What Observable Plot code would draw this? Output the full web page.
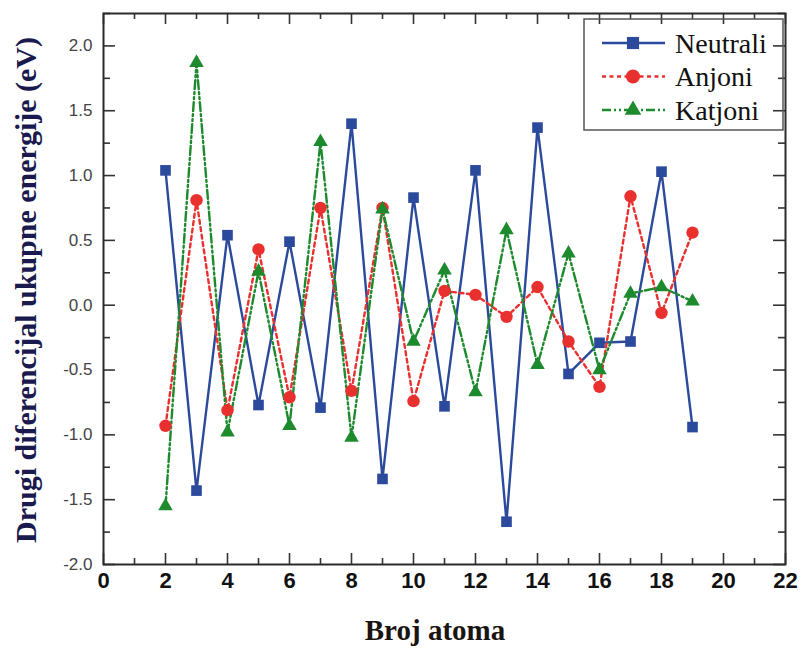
<!DOCTYPE html>
<html><head><meta charset="utf-8">
<script src="https://cdn.jsdelivr.net/npm/d3@7"></script>
<script src="https://cdn.jsdelivr.net/npm/@observablehq/plot@0.6"></script>
<style>
body{margin:0;background:#fff;}
#wrap{position:relative;width:803px;height:649px;overflow:hidden;background:#fff;}
#wrap svg{position:absolute;left:0;top:0;}
</style></head><body><div id="wrap"></div>
<script>
// ---- data ----
const atoms    = [2, 3, 4, 5, 6, 7, 8, 9, 10, 11, 12, 13, 14, 15, 16, 17, 18, 19];
const neutrali = [1.04, -1.43, 0.54, -0.77, 0.49, -0.79, 1.40, -1.34, 0.83, -0.78, 1.04, -1.67, 1.37, -0.53, -0.29, -0.28, 1.03, -0.94];
const anjoni   = [-0.93, 0.81, -0.81, 0.43, -0.71, 0.75, -0.66, 0.75, -0.74, 0.11, 0.08, -0.09, 0.14, -0.28, -0.63, 0.84, -0.06, 0.56];
const katjoni  = [-1.55, 1.87, -0.98, 0.26, -0.93, 1.26, -1.02, 0.74, -0.28, 0.27, -0.67, 0.58, -0.46, 0.40, -0.50, 0.09, 0.14, 0.03];
const seriesNames = ["Neutrali", "Anjoni", "Katjoni"];
const xMajor = [0, 2, 4, 6, 8, 10, 12, 14, 16, 18, 20, 22];
const xMinor = [1, 3, 5, 7, 9, 11, 13, 15, 17, 19, 21];
const yMajor = [-2.0, -1.5, -1.0, -0.5, 0.0, 0.5, 1.0, 1.5, 2.0];
const yMinor = [-1.75, -1.25, -0.75, -0.25, 0.25, 0.75, 1.25, 1.75, 2.25];
const xTitle = "Broj atoma";
const yTitle = "Drugi diferencijal ukupne energije (eV)";

// ---- styles ----
const styles = {
  Neutrali: {color: "#2c4a9c", dash: null, symbol: "square", r: 6.0},
  Anjoni:   {color: "#e8302e", dash: "4,3.5", symbol: "circle", r: 6.2},
  Katjoni:  {color: "#1e8a2e", dash: "9,3,2,3,2,3", symbol: "triangle", r: 5.4}
};
const values = {Neutrali: neutrali, Anjoni: anjoni, Katjoni: katjoni};
const rows = seriesNames.flatMap(s => atoms.map((n, i) => ({n, v: values[s][i], s})));

const W = 803, H = 649, mL = 103, mR = 18, mT = 13, mB = 85;
const fw = W - mL - mR, fh = H - mT - mB;
const tickCol = "#333";

const lineMarks = seriesNames.map(s => Plot.line(rows.filter(d => d.s === s), {
  x: "n", y: "v", stroke: styles[s].color, strokeWidth: 2.4,
  strokeDasharray: styles[s].dash, strokeLinejoin: "miter"
}));
const dotMarks = seriesNames.map(s => Plot.dot(rows.filter(d => d.s === s), {
  x: "n", y: "v", fill: styles[s].color, stroke: "none",
  symbol: styles[s].symbol, r: styles[s].r
}));

const chart = Plot.plot({
  width: W, height: H,
  marginLeft: mL, marginRight: mR, marginTop: mT, marginBottom: mB,
  x: {domain: [0, 22], label: null, axis: null},
  y: {domain: [-2, 2.25], label: null, axis: null},
  style: {background: "transparent", overflow: "visible"},
  marks: [
    Plot.tickX(xMajor, {x: d => d, insetTop: fh - 11, stroke: tickCol, strokeWidth: 1.6}),
    Plot.tickX(xMinor, {x: d => d, insetTop: fh - 6, stroke: tickCol, strokeWidth: 1.6}),
    Plot.tickX(xMajor, {x: d => d, insetBottom: fh - 11, stroke: tickCol, strokeWidth: 1.6}),
    Plot.tickX(xMinor, {x: d => d, insetBottom: fh - 6, stroke: tickCol, strokeWidth: 1.6}),
    Plot.tickY(yMajor, {y: d => d, insetRight: fw - 12, stroke: tickCol, strokeWidth: 1.6}),
    Plot.tickY(yMinor, {y: d => d, insetRight: fw - 7, stroke: tickCol, strokeWidth: 1.6}),
    Plot.tickY(yMajor, {y: d => d, insetLeft: fw - 12, stroke: tickCol, strokeWidth: 1.6}),
    Plot.tickY(yMinor, {y: d => d, insetLeft: fw - 7, stroke: tickCol, strokeWidth: 1.6}),
    Plot.frame({stroke: "#2a2a2a", strokeWidth: 2}),
    ...lineMarks,
    ...dotMarks,
    Plot.text(xMajor, {x: d => d, frameAnchor: "bottom", dy: 23, text: d => String(d),
      fontSize: 22, fontWeight: "bold", fontFamily: "Liberation Sans, Arial, sans-serif", fill: "#111"}),
    Plot.text(yMajor, {y: d => d, frameAnchor: "left", dx: -11, textAnchor: "end",
      text: d => d.toFixed(1), fontSize: 17, fontFamily: "Liberation Sans, Arial, sans-serif", fill: "#444"})
  ]
});
const wrap = document.getElementById("wrap");
wrap.appendChild(chart);

// ---- overlay: titles + legend ----
const ov = d3.select(wrap).append("svg").attr("width", W).attr("height", H)
  .style("pointer-events", "none");
ov.append("text").attr("transform", "translate(36,290) rotate(-90)")
  .attr("text-anchor", "middle").attr("font-family", "Liberation Serif, Times New Roman, serif")
  .attr("font-weight", "bold").attr("font-size", 30).attr("fill", "#1a1a4e").text(yTitle);
ov.append("text").attr("x", 435).attr("y", 640)
  .attr("text-anchor", "middle").attr("font-family", "Liberation Serif, Times New Roman, serif")
  .attr("font-weight", "bold").attr("font-size", 29).attr("fill", "#1a1410").text(xTitle);

const lg = ov.append("g");
lg.append("rect").attr("x", 584).attr("y", 19).attr("width", 199).attr("height", 111)
  .attr("fill", "none").attr("stroke", "#555").attr("stroke-width", 1.5);
const symMap = {square: d3.symbolSquare, circle: d3.symbolCircle, triangle: d3.symbolTriangle};
seriesNames.forEach((s, i) => {
  const cy = 43 + i * 33.5;
  const st = styles[s];
  lg.append("line").attr("x1", 602).attr("x2", 665).attr("y1", cy).attr("y2", cy)
    .attr("stroke", st.color).attr("stroke-width", 2.4)
    .attr("stroke-dasharray", st.dash);
  lg.append("path").attr("transform", `translate(633,${cy})`)
    .attr("d", d3.symbol(symMap[st.symbol], Math.PI * st.r * st.r * 1.3)())
    .attr("fill", st.color);
  lg.append("text").attr("x", 675).attr("y", cy).attr("dy", "0.34em")
    .attr("font-family", "Liberation Serif, Times New Roman, serif").attr("font-size", 28)
    .attr("fill", "#111").text(s);
});
</script></body></html>
